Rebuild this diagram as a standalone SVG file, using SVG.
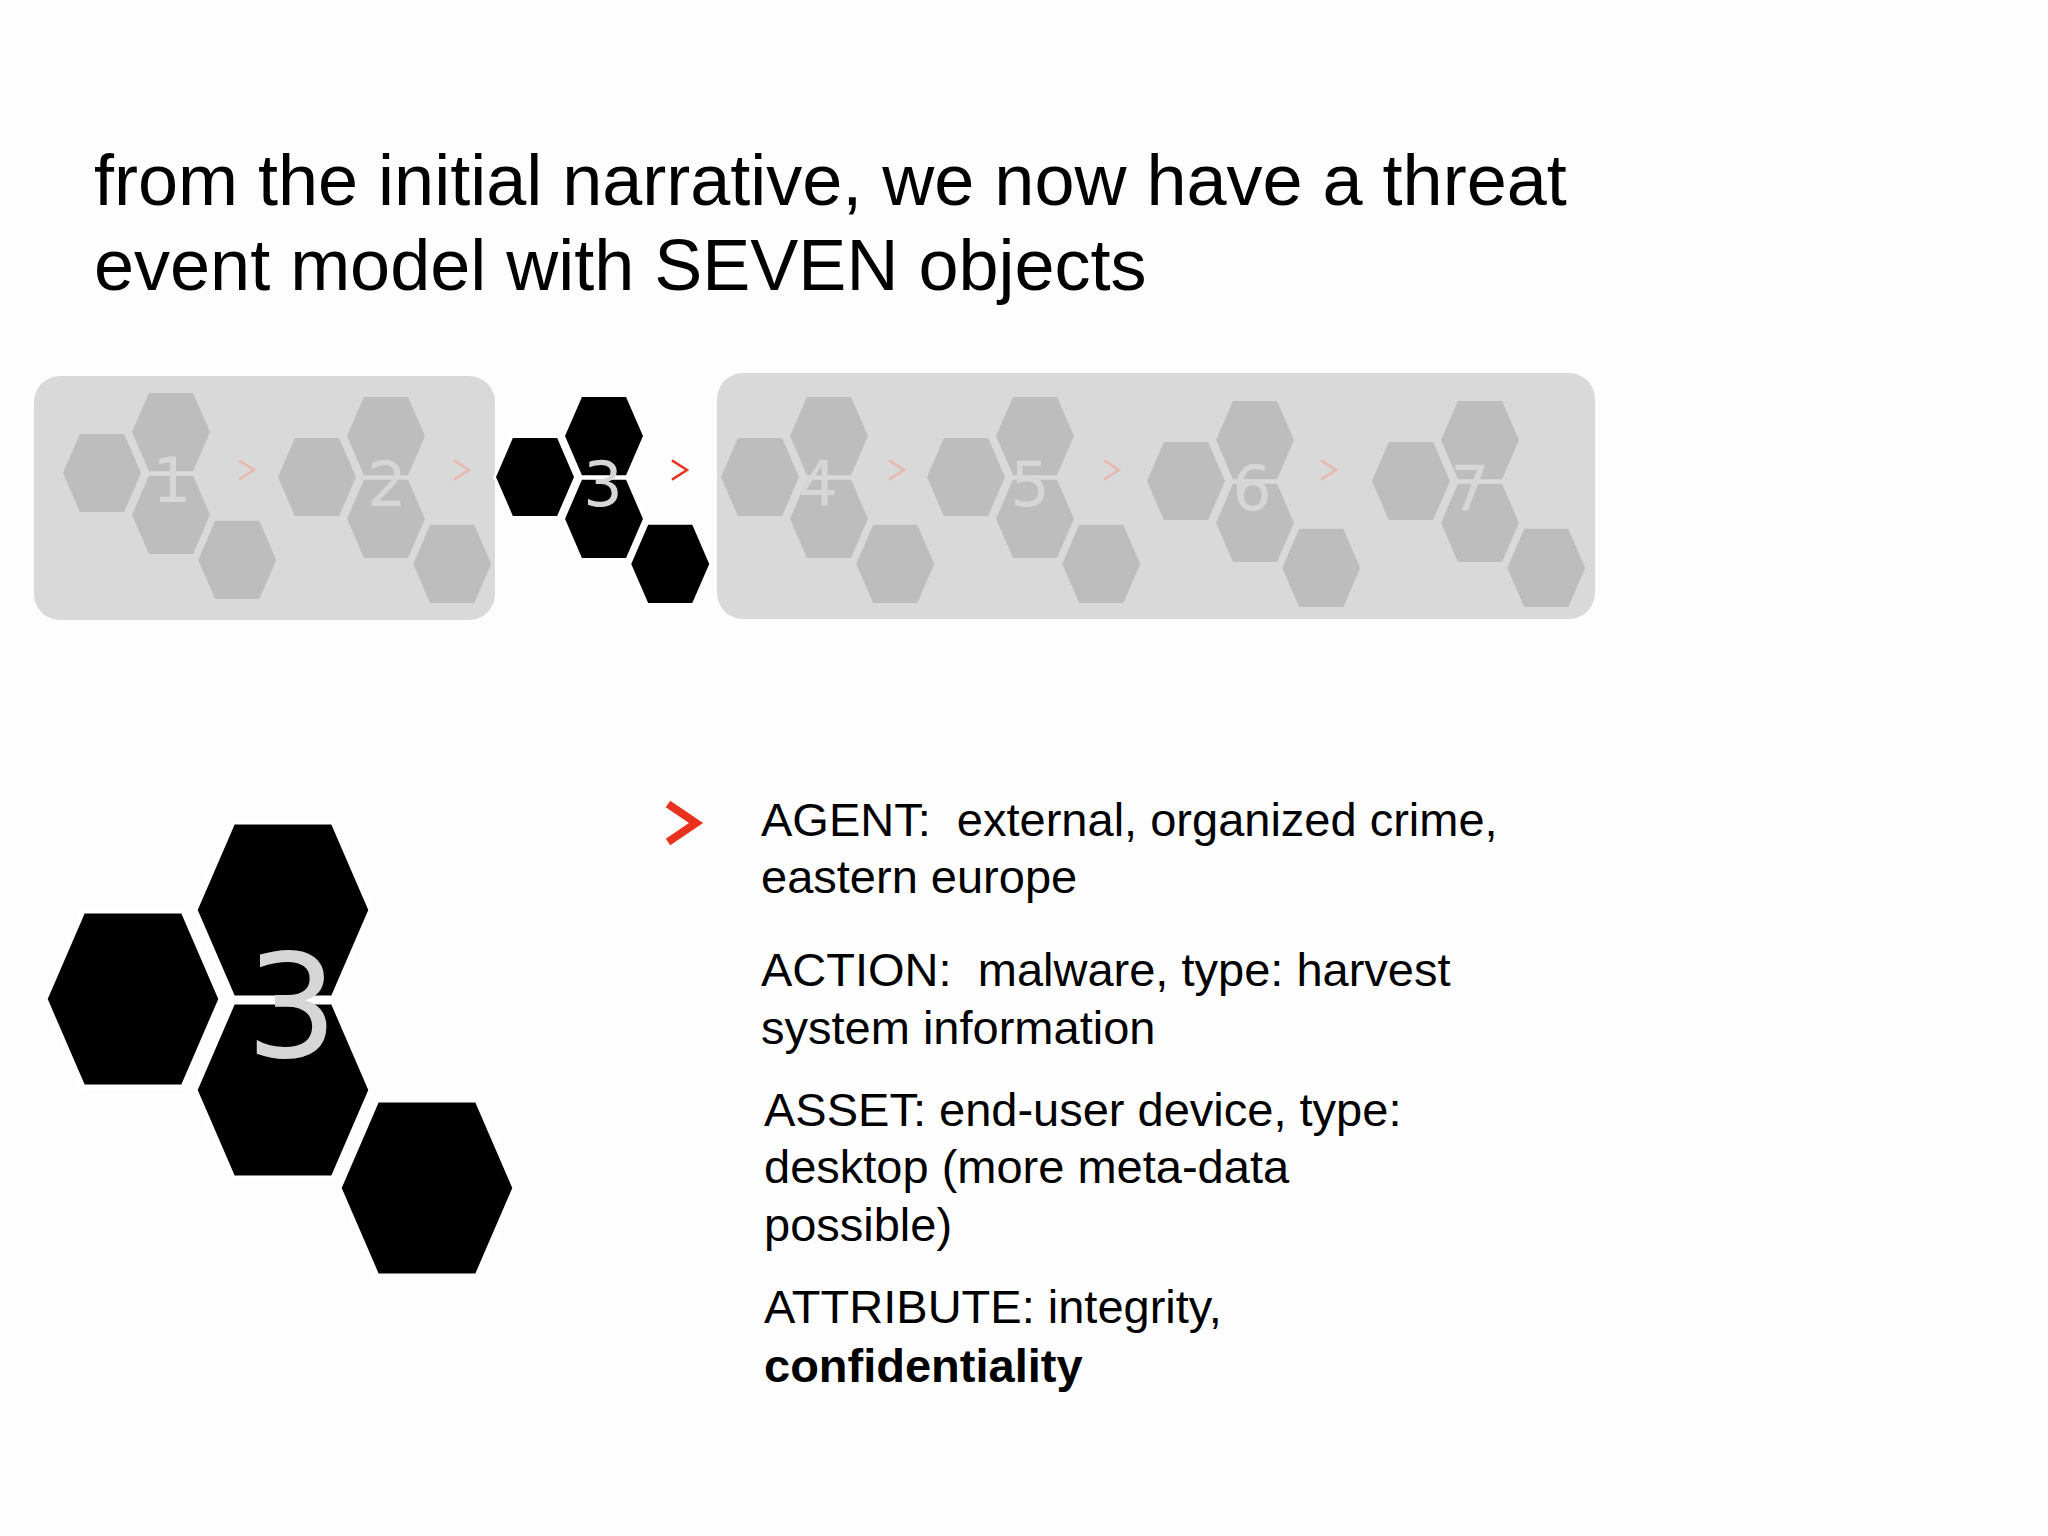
<svg xmlns="http://www.w3.org/2000/svg" xmlns:xlink="http://www.w3.org/1999/xlink" width="2048" height="1536" viewBox="0 0 2048 1536">
<style>
.t{font-family:"Liberation Sans",Arial,sans-serif;fill:#000}
.title{font-size:72px}
.body{font-size:47px;white-space:pre}
.num{font-family:"DejaVu Sans",sans-serif;fill:#d6d6d6}
.chev{fill:none;stroke-linecap:square;stroke-linejoin:miter}
</style>
<defs>
<polygon id="hex" points="-88,0 -50,-88 50,-88 88,0 50,88 -50,88"/>
<g id="cl">
<use xlink:href="#hex" href="#hex" x="0" y="0"/>
<use xlink:href="#hex" href="#hex" x="150" y="-89"/>
<use xlink:href="#hex" href="#hex" x="150" y="91"/>
<use xlink:href="#hex" href="#hex" x="294" y="189"/>
</g>
</defs>
<rect width="2048" height="1536" fill="#fdfdfd"/>
<text class="t title" x="94" y="205">from the initial narrative, we now have a threat</text>
<text class="t title" x="94" y="290">event model with SEVEN objects</text>

<g id="strip-box-1"><rect x="34" y="376" width="461" height="244" rx="26" fill="#d9d9d9"/></g>
<g id="strip-box-2"><rect x="717" y="373" width="878" height="246" rx="26" fill="#d9d9d9"/></g>

<g id="obj1"><g transform="translate(102,473) scale(0.46)" fill="#bdbdbd" stroke="#d9d9d9" stroke-width="6"><use xlink:href="#cl" href="#cl"/></g><text class="num" x="172" y="502" font-size="62" text-anchor="middle">1</text></g>
<g id="obj2"><g transform="translate(317,477) scale(0.46)" fill="#bdbdbd" stroke="#d9d9d9" stroke-width="6"><use xlink:href="#cl" href="#cl"/></g><text class="num" x="387" y="506" font-size="62" text-anchor="middle">2</text></g>
<g id="obj3"><g transform="translate(535,477) scale(0.46)" fill="#000" stroke="#fff" stroke-width="6"><use xlink:href="#cl" href="#cl"/></g><text class="num" x="603" y="506" font-size="62" text-anchor="middle">3</text></g>
<g id="obj4"><g transform="translate(760,477) scale(0.46)" fill="#bdbdbd" stroke="#d9d9d9" stroke-width="6"><use xlink:href="#cl" href="#cl"/></g><text class="num" x="818" y="506" font-size="62" text-anchor="middle">4</text></g>
<g id="obj5"><g transform="translate(966,477) scale(0.46)" fill="#bdbdbd" stroke="#d9d9d9" stroke-width="6"><use xlink:href="#cl" href="#cl"/></g><text class="num" x="1030" y="506" font-size="62" text-anchor="middle">5</text></g>
<g id="obj6"><g transform="translate(1186,481) scale(0.46)" fill="#bdbdbd" stroke="#d9d9d9" stroke-width="6"><use xlink:href="#cl" href="#cl"/></g><text class="num" x="1252" y="510" font-size="62" text-anchor="middle">6</text></g>
<g id="obj7"><g transform="translate(1411,481) scale(0.46)" fill="#bdbdbd" stroke="#d9d9d9" stroke-width="6"><use xlink:href="#cl" href="#cl"/></g><text class="num" x="1470" y="510" font-size="62" text-anchor="middle">7</text></g>

<g id="connectors" class="chev" stroke-width="2.5">
<polyline points="240,461 254,470 240,479" stroke="#e8b8b0"/>
<polyline points="455,461 469,470 455,479" stroke="#e8b8b0"/>
<polyline points="673,461 687,470 673,479" stroke="#e8321e"/>
<polyline points="890,461 904,470 890,479" stroke="#e8b8b0"/>
<polyline points="1105,461 1119,470 1105,479" stroke="#e8b8b0"/>
<polyline points="1322,461 1336,470 1322,479" stroke="#e8b8b0"/>
</g>

<g id="big-obj3"><g transform="translate(133,999)" fill="#000" stroke="#fff" stroke-width="5"><use xlink:href="#cl" href="#cl"/></g><text class="num" x="292" y="1057" font-size="145" text-anchor="middle">3</text></g>

<polyline points="668,804 696,823 668,842" fill="none" stroke="#e8321e" stroke-width="8"/>

<g id="details" class="t body">
<text x="761" y="836" xml:space="preserve">AGENT:  external, organized crime,</text>
<text x="761" y="893">eastern europe</text>
<text x="761" y="986" xml:space="preserve">ACTION:  malware, type: harvest</text>
<text x="761" y="1044">system information</text>
<text x="764" y="1126">ASSET: end-user device, type:</text>
<text x="764" y="1183">desktop (more meta-data</text>
<text x="764" y="1241">possible)</text>
<text x="764" y="1323">ATTRIBUTE: integrity,</text>
<text x="764" y="1382" font-weight="bold">confidentiality</text>
</g>
</svg>
